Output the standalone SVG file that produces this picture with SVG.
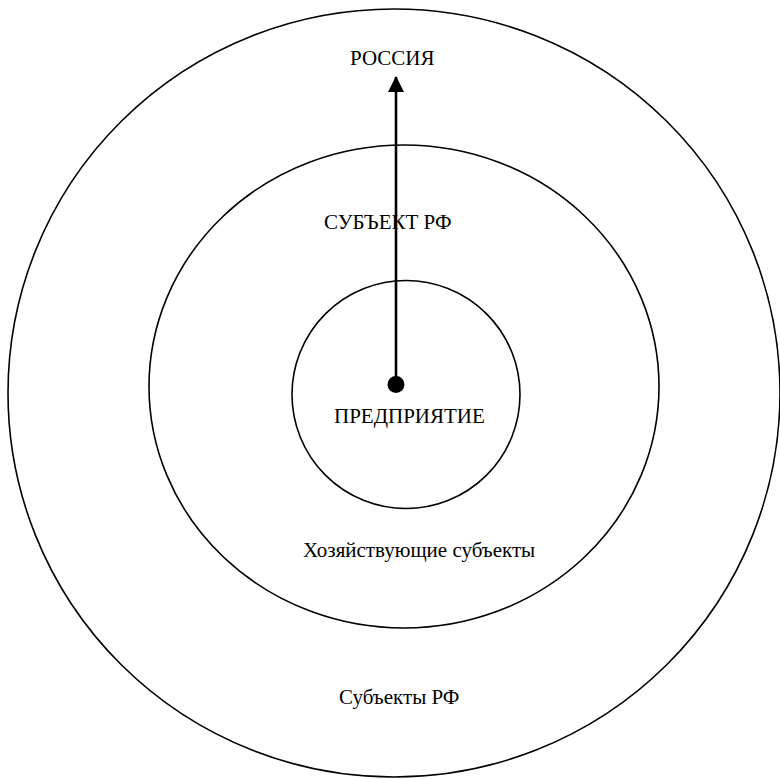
<svg xmlns="http://www.w3.org/2000/svg" width="780" height="779" viewBox="0 0 780 779">
<defs>
<style>
.ring{fill:none;stroke:#000;stroke-width:1.6}
.lbl{font-family:"Liberation Serif","Times New Roman",serif;font-size:21px;fill:#000}
</style>
<marker id="ah" markerUnits="userSpaceOnUse" markerWidth="16" markerHeight="16" viewBox="0 0 16 16" refX="15" refY="8" orient="auto">
<path d="M0,0 L16,8 L0,16 Z" fill="#000"/>
</marker>
</defs>
<rect width="780" height="779" fill="#fff"/>
<g id="russia">
<ellipse class="ring" cx="394" cy="393" rx="386" ry="384"/>
<text class="lbl" x="350" y="65">РОССИЯ</text>
<text class="lbl" x="339" y="704">Субъекты РФ</text>
</g>
<g id="subject">
<ellipse class="ring" cx="404" cy="386.5" rx="255" ry="241.5"/>
<text class="lbl" x="324" y="229">СУБЪЕКТ РФ</text>
<text class="lbl" x="303" y="557">Хозяйствующие субъекты</text>
</g>
<g id="enterprise">
<circle class="ring" cx="406" cy="394.5" r="114"/>
<text class="lbl" x="334" y="423">ПРЕДПРИЯТИЕ</text>
</g>
<g id="connectors">
<line x1="396" y1="384.5" x2="396" y2="77" stroke="#000" stroke-width="2.6" marker-end="url(#ah)"/>
<circle cx="396" cy="384.5" r="8.5" fill="#000"/>
</g>
</svg>
